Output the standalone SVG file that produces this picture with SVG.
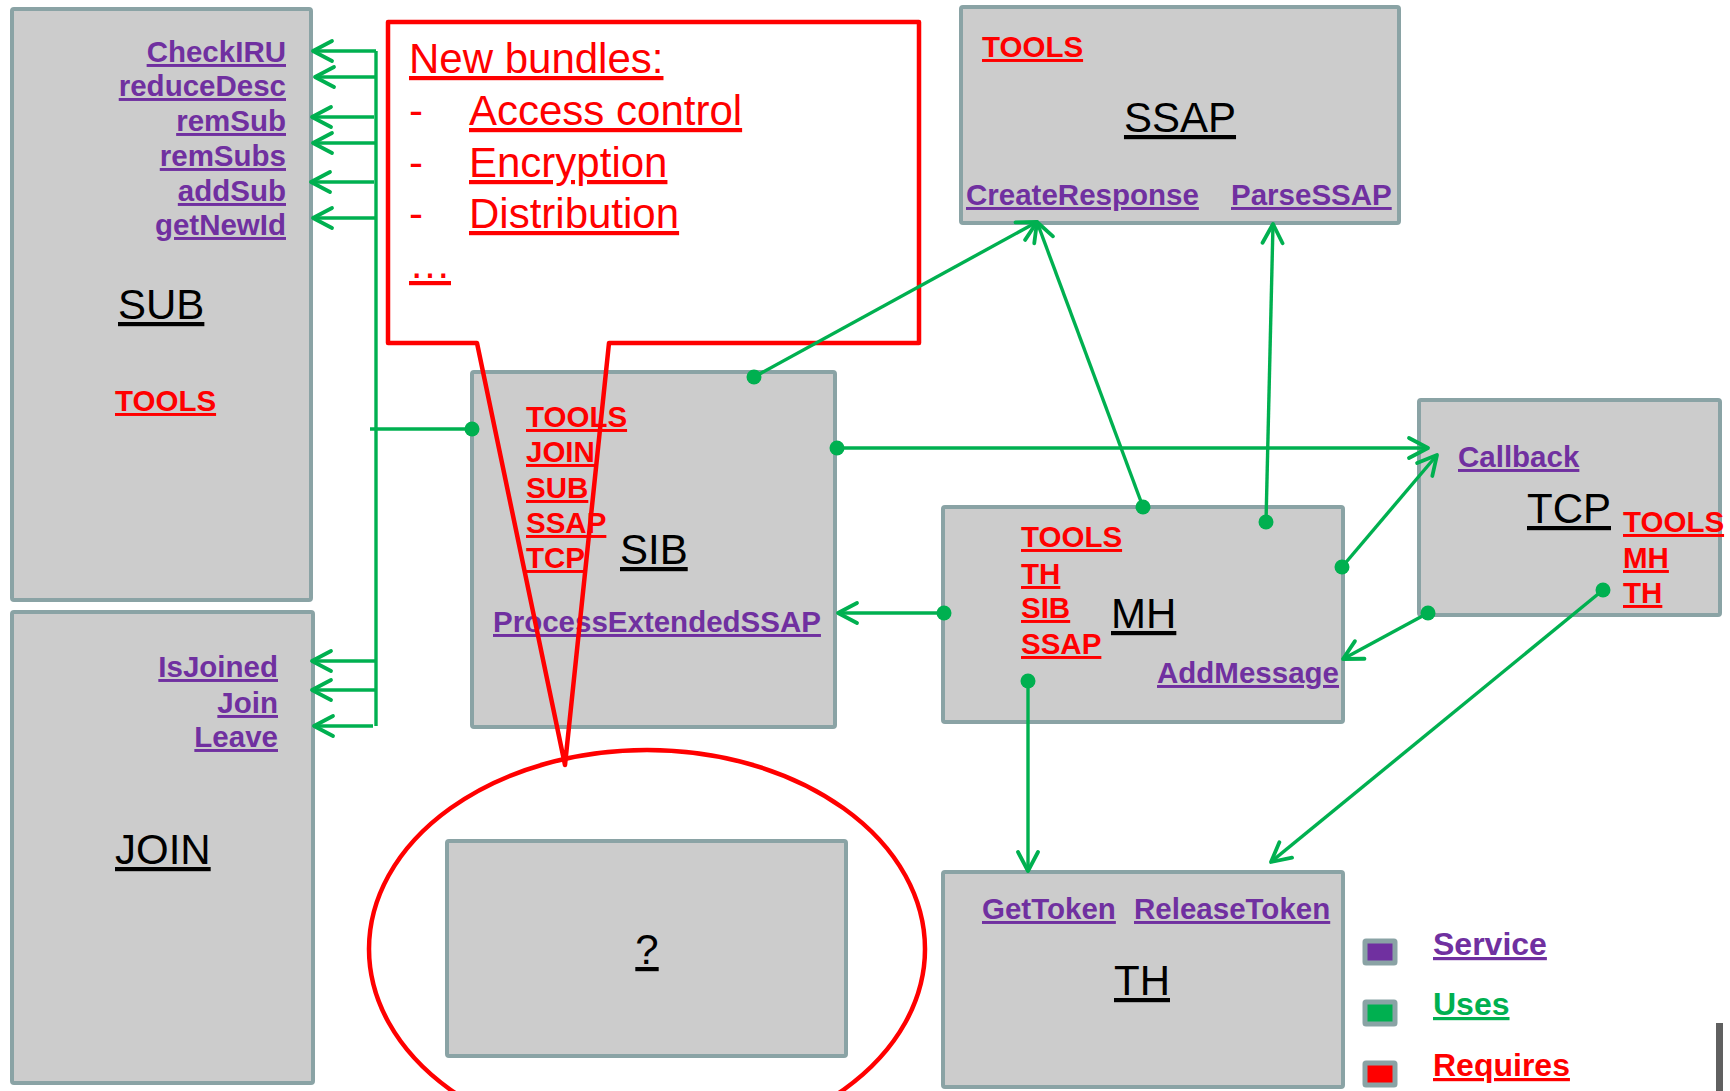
<svg xmlns="http://www.w3.org/2000/svg" width="1730" height="1091" viewBox="0 0 1730 1091">
<style>
text{font-family:"Liberation Sans",Arial,sans-serif;text-decoration:underline;text-decoration-thickness:3.5px;}
.box{fill:#CCCCCC;stroke:#8AA3A5;stroke-width:4;}
.svc{font-size:29.5px;font-weight:bold;fill:#7030A0;}
.req{font-size:29.5px;font-weight:bold;fill:#FF0000;}
.big{font-size:42px;fill:#000000;}
.note{font-size:42px;fill:#FF0000;}
.end{text-anchor:end;}
.mid{text-anchor:middle;}
.c{fill:none;stroke:#00B050;stroke-width:3.4;}
.a{marker-end:url(#arr);}
.d{marker-start:url(#dot);}
.lg{font-size:32px;font-weight:bold;}
</style>
<defs>
<marker id="arr" markerUnits="userSpaceOnUse" viewBox="-22 -12 24 24" refX="0" refY="0" markerWidth="24" markerHeight="24" orient="auto" overflow="visible">
<path d="M-19,-10 L0,0 L-19,10" fill="none" stroke="#00B050" stroke-width="3.8" stroke-linecap="round" stroke-linejoin="round"/>
</marker>
<marker id="dot" markerUnits="userSpaceOnUse" viewBox="-8 -8 16 16" refX="0" refY="0" markerWidth="16" markerHeight="16" overflow="visible">
<circle cx="0" cy="0" r="7.5" fill="#00B050"/>
</marker>
</defs>
<rect width="1730" height="1091" fill="#FFFFFF"/>

<g id="SUB">
<rect class="box" x="12" y="9" width="299" height="591" rx="2"/>
<text class="svc end" x="286" y="62">CheckIRU</text>
<text class="svc end" x="286" y="96">reduceDesc</text>
<text class="svc end" x="286" y="131">remSub</text>
<text class="svc end" x="286" y="166">remSubs</text>
<text class="svc end" x="286" y="201">addSub</text>
<text class="svc end" x="286" y="235">getNewId</text>
<text class="big" x="118" y="319">SUB</text>
<text class="req" x="115" y="411">TOOLS</text>
</g>

<g id="JOIN">
<rect class="box" x="12" y="612" width="301" height="471" rx="2"/>
<text class="svc end" x="278" y="677">IsJoined</text>
<text class="svc end" x="278" y="713">Join</text>
<text class="svc end" x="278" y="747">Leave</text>
<text class="big" x="115" y="864">JOIN</text>
</g>

<g id="SIB">
<rect class="box" x="472" y="372" width="363" height="355" rx="2"/>
<text class="req" x="526" y="427">TOOLS</text>
<text class="req" x="526" y="462">JOIN</text>
<text class="req" x="526" y="498">SUB</text>
<text class="req" x="526" y="533">SSAP</text>
<text class="req" x="526" y="568">TCP</text>
<text class="big" x="620" y="564">SIB</text>
<text class="svc" x="493" y="632">ProcessExtendedSSAP</text>
</g>

<g id="SSAP">
<rect class="box" x="961" y="7" width="438" height="216" rx="2"/>
<text class="req" x="982" y="57">TOOLS</text>
<text class="big mid" x="1180" y="132">SSAP</text>
<text class="svc" x="966" y="205">CreateResponse</text>
<text class="svc" x="1231" y="205">ParseSSAP</text>
</g>

<g id="MH">
<rect class="box" x="943" y="507" width="400" height="215" rx="2"/>
<text class="req" x="1021" y="547">TOOLS</text>
<text class="req" x="1021" y="584">TH</text>
<text class="req" x="1021" y="618">SIB</text>
<text class="req" x="1021" y="654">SSAP</text>
<text class="big" x="1111" y="628">MH</text>
<text class="svc end" x="1339" y="683">AddMessage</text>
</g>

<g id="TCP">
<rect class="box" x="1419" y="400" width="301" height="215" rx="2"/>
<text class="svc" x="1458" y="467">Callback</text>
<text class="big" x="1527" y="523">TCP</text>
<text class="req" x="1623" y="532">TOOLS</text>
<text class="req" x="1623" y="568">MH</text>
<text class="req" x="1623" y="603">TH</text>
</g>

<g id="TH">
<rect class="box" x="943" y="872" width="400" height="215" rx="2"/>
<text class="svc" x="982" y="919">GetToken</text>
<text class="svc" x="1134" y="919">ReleaseToken</text>
<text class="big" x="1114" y="995">TH</text>
</g>

<g id="unknown">
<rect class="box" x="447" y="841" width="399" height="215" rx="2"/>
<text class="big mid" x="647" y="964">?</text>
</g>

<g id="callout">
<rect x="388" y="22" width="531" height="321" fill="#FFFFFF"/>
<path d="M388,22 H919 V343 H609 L565,765 L477,343 H388 Z" fill="none" stroke="#FF0000" stroke-width="4.5" stroke-linejoin="round"/>
<text class="note" x="409" y="73">New bundles:</text>
<text class="note" x="409" y="125" style="text-decoration:none">-</text>
<text class="note" x="469" y="125">Access control</text>
<text class="note" x="409" y="177" style="text-decoration:none">-</text>
<text class="note" x="469" y="177">Encryption</text>
<text class="note" x="409" y="228" style="text-decoration:none">-</text>
<text class="note" x="469" y="228">Distribution</text>
<text class="note" x="409" y="278">…</text>
</g>

<g id="highlight">
<ellipse cx="647" cy="949" rx="278" ry="199" fill="none" stroke="#FF0000" stroke-width="4.5"/>
</g>

<g id="connectors">
<path class="c" d="M376,51 V726"/>
<path class="c a" d="M376,51 H313"/>
<path class="c a" d="M376,77 H315"/>
<path class="c a" d="M374,117 H312"/>
<path class="c a" d="M376,143 H313"/>
<path class="c a" d="M374,182 H311"/>
<path class="c a" d="M376,218 H313"/>
<path class="c a" d="M376,661 H312"/>
<path class="c a" d="M376,690 H312"/>
<path class="c a" d="M373,726 H314"/>
<path class="c d" d="M472,429 H370"/>
<path class="c d a" d="M754,377 L1037,222"/>
<path class="c d a" d="M837,448 H1428"/>
<path class="c d a" d="M944,613 H838"/>
<path class="c d a" d="M1143,507 L1037,222"/>
<path class="c d a" d="M1266,522 L1273,224"/>
<path class="c d a" d="M1342,567 L1437,455"/>
<path class="c d a" d="M1428,613 L1343,659"/>
<path class="c d a" d="M1028,681 V871"/>
<path class="c d a" d="M1603,590 L1271,862"/>
</g>

<g id="legend">
<rect x="1365" y="941" width="30" height="22" fill="#7030A0" stroke="#8AA3A5" stroke-width="5" rx="1"/>
<rect x="1365" y="1002" width="30" height="22" fill="#00B050" stroke="#8AA3A5" stroke-width="5" rx="1"/>
<rect x="1365" y="1063" width="30" height="22" fill="#FF0000" stroke="#8AA3A5" stroke-width="5" rx="1"/>
<text class="lg" x="1433" y="955" fill="#7030A0">Service</text>
<text class="lg" x="1433" y="1015" fill="#00B050">Uses</text>
<text class="lg" x="1433" y="1076" fill="#FF0000">Requires</text>
</g>
<rect x="1716" y="1023" width="7" height="68" fill="#606060"/>
</svg>
